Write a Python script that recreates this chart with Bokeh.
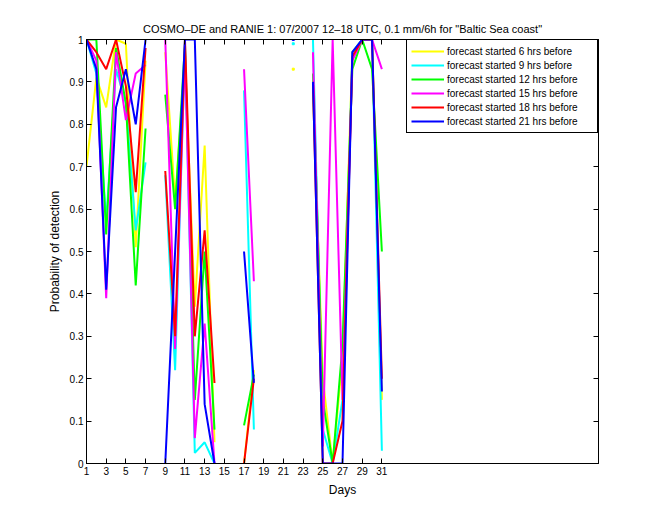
import math
from bokeh.plotting import figure
from bokeh.models import Range1d, LinearAxis, FixedTicker, Legend, LegendItem
from bokeh.embed import file_html
from bokeh.resources import INLINE

N = float("nan")
days = list(range(1, 32))

f06 = [0.70, 0.91, 0.84, 1.00, 0.99, 0.51, 0.95, N, 0.97, 0.62, 0.95, 0.37, 0.75, 0.05, N, N,
       0.00, 0.22, N, N, N, 0.93, N, 0.88, 0.20, 0.00, 0.25, 0.97, 1.00, 1.00, 0.15]
f09 = [1.00, 0.92, 0.57, 0.93, 0.85, 0.55, 0.71, N, 0.68, 0.22, 0.98, 0.025, 0.05, 0.00, N, N,
       0.88, 0.08, N, N, N, 0.99, N, 1.00, 0.08, 0.00, 0.15, 0.97, 1.00, 1.00, 0.03]
f12 = [1.00, 1.00, 0.54, 0.98, 0.85, 0.42, 0.79, N, 0.87, 0.60, 0.99, 0.15, 0.50, 0.08, N, N,
       0.09, 0.21, N, N, N, N, N, 0.92, 0.15, 0.00, 0.28, 0.93, 1.00, 0.93, 0.50]
f15 = [1.00, 0.95, 0.39, 0.97, 0.81, 0.92, 0.94, N, 1.00, 0.27, 0.97, 0.06, 0.33, 0.00, N, N,
       0.93, 0.43, N, N, N, N, N, 0.97, 0.04, 1.00, 0.15, 0.95, 1.00, 1.00, 0.93]
f18 = [1.00, 0.97, 0.93, 1.00, 0.89, 0.64, 0.98, N, 0.69, 0.30, 1.00, 0.30, 0.55, 0.19, N, N,
       0.00, 0.20, N, N, N, N, N, 0.90, 0.00, 0.00, 0.10, 0.96, 1.00, 1.00, 0.20]
f21 = [1.00, 0.93, 0.41, 0.84, 0.93, 0.80, 1.00, N, 0.00, 0.50, 1.00, 1.00, 0.14, 0.00, N, N,
       0.50, 0.19, N, N, N, 1.00, N, 0.90, 0.00, 0.00, 0.00, 0.97, 1.00, 1.00, 0.17]

series = [f06, f09, f12, f15, f18, f21]
labels = ["forecast started 6 hrs before", "forecast started 9 hrs before",
          "forecast started 12 hrs before", "forecast started 15 hrs before",
          "forecast started 18 hrs before", "forecast started 21 hrs before"]
colors = ["#FFFF00", "#00FFFF", "#00FF00", "#FF00FF", "#FF0000", "#0000FF"]
xticks = list(range(1, 32, 2))
yticks = [i / 10 for i in range(11)]

FONT = "Liberation Sans"

p = figure(width=660, height=520, output_backend="svg", toolbar_location=None,
           x_range=Range1d(1, 53), y_range=Range1d(0, 1),
           min_border_left=86, min_border_right=62, min_border_top=39, min_border_bottom=57)
p.title.text = 'COSMO\u2013DE and RANIE 1: 07/2007 12\u201318 UTC, 0.1 mm/6h for "Baltic Sea coast"'
p.title.align = "center"
p.title.text_font = FONT
p.title.text_font_size = "11px"
p.title.text_font_style = "normal"
p.title.text_color = "black"
p.title.offset = 0
p.grid.visible = False
p.outline_line_color = "black"
p.background_fill_color = "white"
p.border_fill_color = "white"

for ax in (p.xaxis[0], p.yaxis[0]):
    ax.major_tick_in = 5
    ax.major_tick_out = 0
    ax.minor_tick_line_color = None
    ax.major_tick_line_color = "black"
    ax.major_label_text_font = FONT
    ax.major_label_text_font_size = "10px"
    ax.major_label_text_color = "black"
    ax.axis_label_text_font = FONT
    ax.axis_label_text_font_size = "12px"
    ax.axis_label_text_font_style = "normal"
    ax.axis_label_text_color = "black"
    ax.axis_line_color = "black"
p.xaxis[0].ticker = FixedTicker(ticks=xticks)
p.yaxis[0].ticker = FixedTicker(ticks=yticks)
p.yaxis[0].major_label_overrides = {v: ("%g" % v) for v in yticks}
p.xaxis[0].axis_label = "Days"
p.yaxis[0].axis_label = "Probability of detection"
p.xaxis[0].major_label_standoff = 3
p.yaxis[0].major_label_standoff = 3

top = LinearAxis(ticker=FixedTicker(ticks=xticks), major_tick_in=5, major_tick_out=0,
                 major_tick_line_color="black", axis_line_color="black",
                 minor_tick_line_color=None, major_label_text_alpha=0, major_label_text_font_size="1px")
right = LinearAxis(ticker=FixedTicker(ticks=yticks), major_tick_in=5, major_tick_out=0,
                   major_tick_line_color="black", axis_line_color="black",
                   minor_tick_line_color=None, major_label_text_alpha=0, major_label_text_font_size="1px")
p.add_layout(top, "above")
p.add_layout(right, "right")

items = []
for ys, lab, col in zip(series, labels, colors):
    r = p.line(days, ys, line_color=col, line_width=2)
    # isolated points (both neighbours missing) shown as tiny dots
    ix, iy = [], []
    for i, v in enumerate(ys):
        if math.isnan(v):
            continue
        left = ys[i - 1] if i > 0 else N
        rgt = ys[i + 1] if i < len(ys) - 1 else N
        if math.isnan(left) and math.isnan(rgt):
            ix.append(days[i]); iy.append(v)
    if ix:
        p.scatter(ix, iy, marker="square", size=2, fill_color=col, line_color=col)
    items.append(LegendItem(label=lab, renderers=[r]))

legend = Legend(items=items, location="top_right")
legend.label_text_font = FONT
legend.label_text_font_size = "10px"
legend.label_text_color = "black"
legend.glyph_width = 33
legend.glyph_height = 14
legend.label_height = 14
legend.label_width = 146
legend.spacing = 0
legend.padding = 4
legend.margin = 0
legend.label_standoff = 3
legend.border_line_color = "black"
legend.border_line_alpha = 1
legend.border_line_width = 1
legend.background_fill_alpha = 1
p.add_layout(legend, "center")

open("out.html", "w").write(file_html(p, INLINE))
